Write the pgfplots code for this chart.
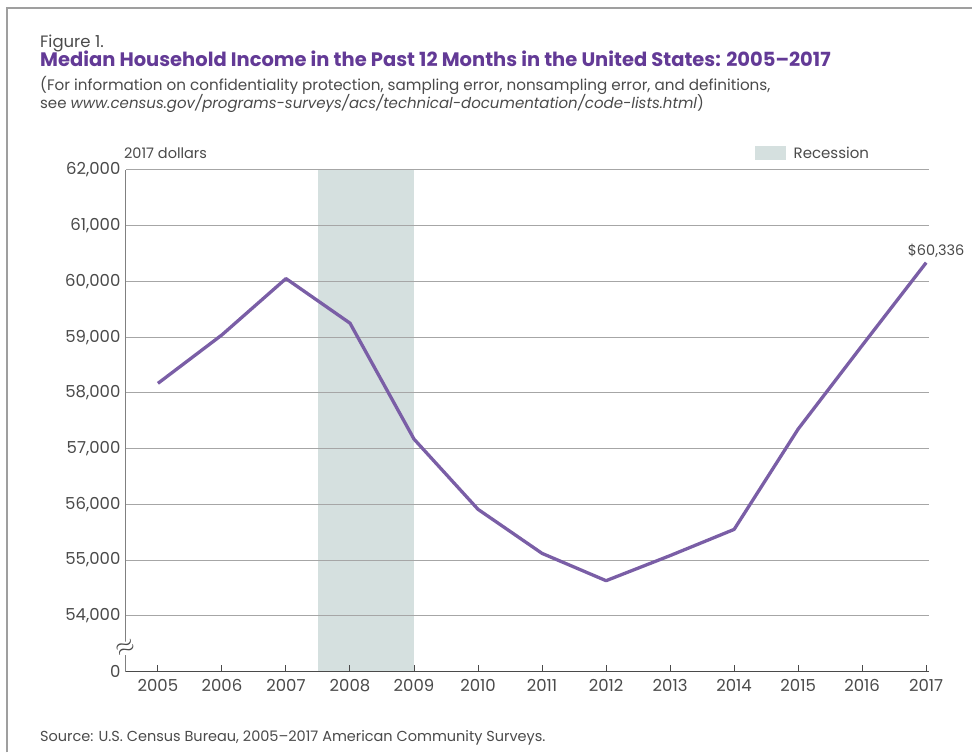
\documentclass[border=0pt]{standalone}
\usepackage{pgfplots}
\pgfplotsset{compat=1.18}
\usepackage{fontspec}
\setmainfont{Poppins}
\definecolor{txt}{HTML}{4A4A4A}
\definecolor{ttl}{HTML}{633A96}
\definecolor{ln}{HTML}{7A5EA6}
\definecolor{rec}{HTML}{D5E0DF}
\definecolor{grd}{HTML}{A6A6A6}
\pgfplotstableread{
year income
2005 58170
2006 59040
2007 60050
2008 59250
2009 57170
2010 55910
2011 55120
2012 54630
2013 55080
2014 55550
2015 57350
2016 58850
2017 60336
}\income
\begin{document}
\begin{tikzpicture}
\path (0pt,0pt) rectangle (973pt,753pt);
\draw[gray!75, line width=1.3pt] (7pt,0pt) -- (7pt,745pt) -- (973pt,745pt);
\node[anchor=base west, inner sep=0, text=txt, font=\fontsize{16.5}{18}\selectfont] at (40pt,705pt) {Figure 1.};
\node[anchor=base west, inner sep=0, text=ttl, font=\fontsize{19.5}{22}\selectfont\bfseries] at (40pt,686pt) {Median Household Income in the Past 12 Months in the United States: 2005--2017};
\node[anchor=base west, inner sep=0, text=txt, font=\fontsize{15.2}{17}\selectfont] at (40pt,662pt) {(For information on confidentiality protection, sampling error, nonsampling error, and definitions,};
\node[anchor=base west, inner sep=0, text=txt, font=\fontsize{15}{17}\selectfont] at (40pt,644pt) {see \textit{www.census.gov/programs-surveys/acs/technical-documentation/code-lists.html})};
\node[anchor=base west, inner sep=0, text=txt, font=\fontsize{14.5}{16}\selectfont] at (124pt,594pt) {2017 dollars};
\fill[rec] (755pt,593pt) rectangle (787pt,607pt);
\node[anchor=base west, inner sep=0, text=txt, font=\fontsize{15}{18}\selectfont] at (794pt,594pt) {Recession};
\node[anchor=base west, inner sep=0, text=txt, font=\fontsize{14.5}{16}\selectfont] at (40pt,11pt) {Source: U.S. Census Bureau, 2005--2017 American Community Surveys.};
\begin{axis}[
  at={(126pt,81pt)}, anchor=south west,
  scale only axis, width=804pt, height=502pt,
  set layers, clip=false,
  xmin=2004.5, xmax=2017.05,
  ymin=53000, ymax=62000,
  scaled y ticks=false,
  axis x line=bottom, axis y line=left,
  x axis line style={-, draw=txt, line width=1.3pt},
  y axis line style={-, draw=gray, line width=1.1pt},
  xtick={2005,2006,2007,2008,2009,2010,2011,2012,2013,2014,2015,2016,2017},
  xticklabels={2005,2006,2007,2008,2009,2010,2011,2012,2013,2014,2015,2016,2017},
  ytick={53000,54000,55000,56000,57000,58000,59000,60000,61000,62000},
  yticklabels={0,{54,000},{55,000},{56,000},{57,000},{58,000},{59,000},{60,000},{61,000},{62,000}},
  tick align=inside,
  major tick length=7pt,
  xtick style={draw=txt, line width=1pt},
  ytick style={draw=none},
  ymajorgrids,
  major grid style={draw=grd, line width=1.1pt},
  tick label style={text=txt, font=\fontsize{16.5}{18}\selectfont},
  xticklabel style={yshift=-4pt},
  yticklabel style={xshift=-2pt},
]
\addplot[fill=rec, draw=none, on layer=axis background] coordinates {(2007.5,53000) (2009,53000) (2009,62000) (2007.5,62000)} -- cycle;
\addplot[ln, line width=3.3pt, line join=round] table[x=year, y=income] {\income};
\node[anchor=south, inner sep=0, text=txt, font=\fontsize{14.5}{16}\selectfont, xshift=10pt, yshift=5pt] at (axis cs:2017,60336) {\$60,336};
\node[fill=white, inner sep=0pt, rotate=25, text=txt, font=\fontsize{24}{24}\selectfont] at (axis cs:2004.5,53420) {$\approx$};
\end{axis}
\end{tikzpicture}
\end{document}
